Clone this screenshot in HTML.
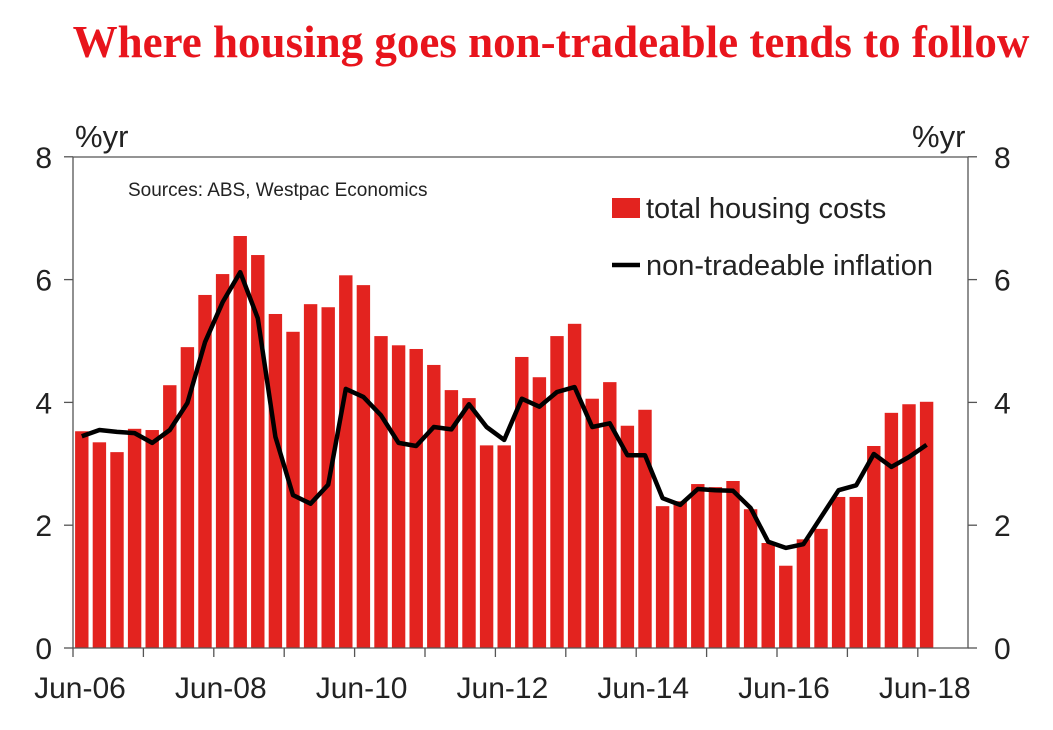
<!DOCTYPE html>
<html><head><meta charset="utf-8"><style>
body{margin:0;background:#fff;width:1053px;height:725px;overflow:hidden}
svg text{font-family:"Liberation Sans",Arial,sans-serif}
</style></head><body>
<svg id="c" width="1053" height="725">
<text x="551" y="57" text-anchor="middle" fill="#e8141c" font-size="45" font-weight="bold" style="font-family:'Liberation Serif',serif">Where housing goes non-tradeable tends to follow</text>
<g id="plot"></g>
</svg>
<script>
const housing=[3.53,3.35,3.19,3.57,3.55,4.28,4.9,5.75,6.09,6.71,6.4,5.44,5.15,5.6,5.55,6.07,5.91,5.08,4.93,4.87,4.61,4.2,4.07,3.3,3.3,4.74,4.41,5.08,5.28,4.06,4.33,3.62,3.88,2.31,2.39,2.67,2.62,2.72,2.26,1.71,1.34,1.77,1.94,2.46,2.46,3.29,3.83,3.97,4.01];
const nonTradeable=[3.45,3.55,3.52,3.5,3.34,3.55,3.99,4.98,5.63,6.12,5.37,3.44,2.49,2.35,2.66,4.22,4.09,3.79,3.34,3.29,3.6,3.56,3.97,3.6,3.39,4.06,3.93,4.17,4.25,3.6,3.66,3.14,3.14,2.44,2.33,2.59,2.57,2.56,2.28,1.73,1.63,1.69,2.13,2.57,2.65,3.16,2.95,3.11,3.31];
const xTickLabels=["Jun-06","Jun-08","Jun-10","Jun-12","Jun-14","Jun-16","Jun-18"];
const yTicks=[0,2,4,6,8];
const NS="http://www.w3.org/2000/svg";
const g=document.getElementById('plot');
const X0=73,X1=968,QW=17.6,Y0=648,YS=61.4;
const xq=i=>X0+QW*(i+0.5);
const yv=v=>Y0-v*YS;
function mk(t,a,txt){const e=document.createElementNS(NS,t);for(const k in a)e.setAttribute(k,a[k]);if(txt!==undefined)e.textContent=txt;g.appendChild(e);return e;}
housing.forEach((v,i)=>{const r=mk('rect',{x:xq(i)-6.7,y:yv(v),width:13.4,height:v*YS,fill:'#e3231f'});

});
const pts=nonTradeable.map((v,i)=>xq(i).toFixed(1)+','+yv(v).toFixed(1)).join(' ');
const pl=mk('polyline',{points:pts,fill:'none',stroke:'#000','stroke-width':4.5,'stroke-linejoin':'round'});


const ax=mk('path',{d:`M${X0},157V${Y0}H${X1}V157Z`,fill:'none',stroke:'#555','stroke-width':1.3});


yTicks.forEach(v=>{
 mk('line',{x1:X0-9,x2:X0,y1:yv(v),y2:yv(v),stroke:'#555','stroke-width':1.3});
 mk('line',{x1:X1,x2:X1+9,y1:yv(v),y2:yv(v),stroke:'#555','stroke-width':1.3});
 const l=mk('text',{x:52,y:yv(v)+11,'text-anchor':'end','font-size':30,fill:'#222'},v);
 
 
 const r=mk('text',{x:994,y:yv(v)+11,'font-size':30,fill:'#222'},v);
 
 
});
for(let q=0;q<=50;q+=4){mk('line',{x1:X0+q*QW,x2:X0+q*QW,y1:Y0,y2:Y0+9,stroke:'#555','stroke-width':1.3});}
xTickLabels.forEach((s,k)=>{const t=mk('text',{x:X0+k*8*QW+7,y:698,'text-anchor':'middle','font-size':30,fill:'#222'},s);

});
let t;
t=mk('text',{x:75,y:147,'font-size':31,fill:'#222'},'%yr');
t=mk('text',{x:912,y:147,'font-size':31,fill:'#222'},'%yr');
t=mk('text',{x:128,y:196,'font-size':19,fill:'#222'},'Sources: ABS, Westpac Economics');
t=mk('rect',{x:612,y:198,width:28,height:20,fill:'#e3231f'});
t=mk('text',{x:646,y:218,'font-size':29,fill:'#222'},'total housing costs');
t=mk('line',{x1:612,x2:640,y1:265,y2:265,stroke:'#000','stroke-width':4.5});
t=mk('text',{x:646,y:275,'font-size':29,fill:'#222'},'non-tradeable inflation');
</script>
</body></html>
